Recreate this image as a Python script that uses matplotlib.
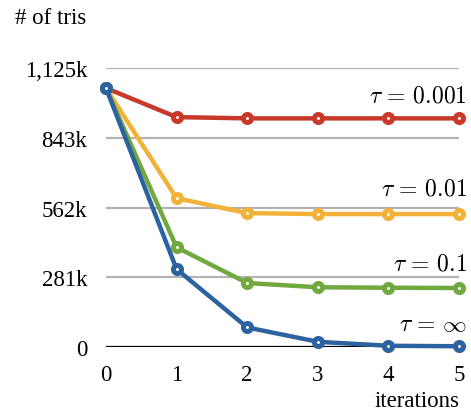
import matplotlib
matplotlib.use("Agg")
import matplotlib.pyplot as plt

# data (k triangles)
iters = [0, 1, 2, 3, 4, 5]
tau_0001 = [1044, 927, 922, 922, 922, 922]
tau_001 = [1044, 600, 540, 536, 536, 536]
tau_01 = [1044, 402, 258, 241, 239, 238]
tau_inf = [1044, 314, 79, 21, 5, 3]
labels = [r"$\tau\,=\,0.001$", r"$\tau\,=\,0.01$", r"$\tau\,=\,0.1$", r"$\tau\,=\,\infty$"]
yticks = [0, 281.25, 562.5, 843.75, 1125]
ytick_labels = ["0", "281k", "562k", "843k", "1,125k"]

plt.rcParams["font.family"] = "Liberation Serif"
plt.rcParams["mathtext.fontset"] = "cm"

fig = plt.figure(figsize=(4.71, 4.14), dpi=100)
ax = fig.add_axes([0.225, 0.1594, 0.7495, 0.6739])

for s in ax.spines.values():
    s.set_visible(False)

for y in yticks[1:]:
    ax.axhline(y, color="#b3b3b3", lw=1.6, zorder=1)
ax.axhline(0, color="black", lw=1.6, zorder=1)

series = [tau_0001, tau_001, tau_01, tau_inf]
colors = ["#c8392a", "#f2b23a", "#71a93f", "#2d62a0"]
label_y = [1012, 637, 335, 90]
for vals, c, lab, ly in zip(series, colors, labels, label_y):
    ax.plot(iters, vals, color=c, lw=3.2, marker="o", ms=5.8, mew=3.6,
            mfc="white", mec=c, clip_on=False, zorder=3)
    ax.text(5.11, ly, lab, ha="right", va="center", fontsize=17)

ax.set_xlim(0, 5)
ax.set_ylim(0, 1125)
ax.set_xticks(iters)
ax.set_yticks(yticks)
ax.set_yticklabels(ytick_labels)
ax.tick_params(length=0, labelsize=16.5)
ax.tick_params(axis="y", pad=13.5)
ax.tick_params(axis="x", pad=12)

fig.text(15 / 471, 1 - 18 / 414, "# of tris", fontsize=16.5, va="center", ha="left")
fig.text(460 / 471, 1 - 402 / 414, "iterations", fontsize=16.5, va="center", ha="right")

fig.savefig("out.png", dpi=100)
